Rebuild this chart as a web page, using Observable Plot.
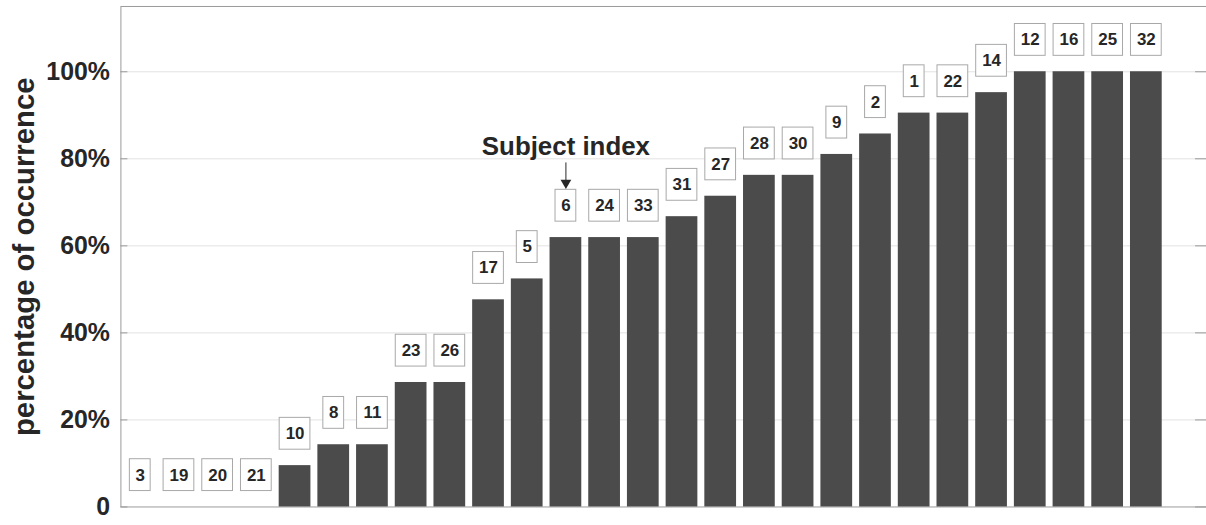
<!DOCTYPE html>
<html>
<head>
<meta charset="utf-8">
<script src="https://cdn.jsdelivr.net/npm/d3@7"></script>
<script src="https://cdn.jsdelivr.net/npm/@observablehq/plot@0.6"></script>
<style>
  body { margin: 0; overflow: hidden; background: #fff; }
</style>
</head>
<body>
<div id="chart"></div>
<script>
// subject index of each bar, left to right
const subjects = ["3", "19", "20", "21", "10", "8", "11", "23", "26", "17", "5", "6", "24", "33",
  "31", "27", "28", "30", "9", "2", "1", "22", "14", "12", "16", "25", "32"]
// percentage of occurrence (%)
const values = [0, 0, 0, 0, 9.5, 14.3, 14.3, 28.6, 28.6, 47.6, 52.4, 61.9, 61.9, 61.9,
  66.7, 71.4, 76.2, 76.2, 81.0, 85.7, 90.5, 90.5, 95.2, 100, 100, 100, 100]
const yTicks = [0, 20, 40, 60, 80, 100]

const data = subjects.map((s, i) => ({subject: s, value: values[i]}))
const single = data.filter(d => d.subject.length === 1)
const double = data.filter(d => d.subject.length > 1)
const pointed = data.filter(d => d.subject === "6")

let chart = Plot.plot({
  width: 1212,
  height: 525,
  marginLeft: 121,
  marginRight: 0,
  marginTop: 6,
  marginBottom: 16,
  style: {fontFamily: "Liberation Sans, Arial, sans-serif", background: "#fff", color: "#262626"},
  x: {domain: subjects, range: [121, 1171], paddingInner: 0.18, paddingOuter: 0.09, round: false, axis: null},
  y: {domain: [0, 115], label: null, axis: null},
  marks: [
    Plot.gridY(yTicks.slice(1), {stroke: "#e2e2e2", strokeOpacity: 1}),
    Plot.frame({stroke: "#9a9a9a"}),
    Plot.barY(data, {x: "subject", y: "value", fill: "#4b4b4b"}),
    // label boxes above the bars
    Plot.barY(double, {x: "subject", y1: "value", y2: "value", insetTop: -32, insetLeft: 0.5, insetRight: 0.5,
      dy: -16, fill: "white", stroke: "#a8a8a8"}),
    Plot.barY(single, {x: "subject", y1: "value", y2: "value", insetTop: -32, insetLeft: 5.5, insetRight: 5.5,
      dy: -16, fill: "white", stroke: "#a8a8a8"}),
    Plot.text(data, {x: "subject", y: "value", text: "subject", dy: -32, fontSize: 17, fontWeight: "bold", fill: "#262626"}),
    // annotation
    Plot.text(pointed, {x: "subject", y: "value", text: () => "Subject index", dy: -91, fontSize: 26, fontWeight: "bold", fill: "#262626"}),
    Plot.ruleX(pointed, {x: "subject", y1: "value", y2: "value", insetTop: -75, insetBottom: 55, stroke: "#262626"}),
    Plot.dot(pointed, {x: "subject", y: "value", symbol: "triangle", rotate: 180, r: 4, dy: -55, fill: "#262626"}),
    // y axis
    Plot.axisY(yTicks, {tickSize: 0, tickPadding: 11, tickFormat: d => d === 0 ? "0" : d + "%",
      fontSize: 25, fontWeight: "bold", fill: "#262626", label: null}),
    Plot.axisY(yTicks, {tickSize: -7, tickFormat: () => "", stroke: "#9a9a9a", label: null}),
    Plot.axisY(yTicks, {anchor: "right", tickSize: -12, tickFormat: () => "", stroke: "#9a9a9a", label: null}),
    Plot.text(["percentage of occurrence"], {frameAnchor: "left", textAnchor: "middle", dx: -97, rotate: -90,
      fontSize: 29.5, fontWeight: "bold", fill: "#262626"})
  ]
})

d3.select('#chart').append(() => chart)
</script>
</body>
</html>
